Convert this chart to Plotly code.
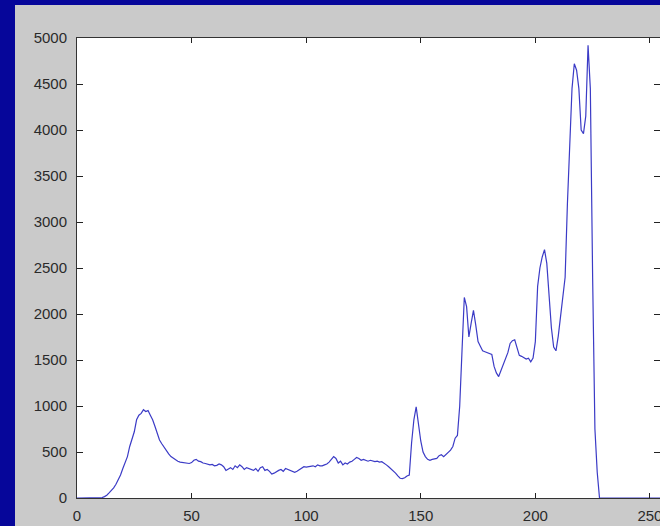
import plotly.graph_objects as go

# Histogram counts for gray levels 0..255
gray_levels = list(range(256))
counts = (
    [0] * 11
    + [5, 15, 30, 55, 80, 110, 150, 200, 250, 320,          # 11-20
       390, 450, 560, 650, 720, 850, 900, 920, 960, 940,     # 21-30
       950, 900, 850, 780, 700, 630, 590, 550, 520, 480,     # 31-40
       450, 430, 410, 400, 390, 385, 380, 380, 375, 385,     # 41-50
       410, 420, 400, 395, 380, 375, 370, 360, 365, 350,     # 51-60
       355, 370, 360, 340, 300, 320, 330, 310, 350, 330,     # 61-70
       360, 340, 310, 330, 320, 310, 300, 320, 290, 330,     # 71-80
       340, 300, 310, 290, 260, 270, 290, 300, 310, 290,     # 81-90
       320, 310, 300, 290, 280, 290, 310, 330, 340, 335,     # 91-100
       340, 345, 350, 340, 360, 350, 350, 360, 370, 390,     # 101-110
       420, 450, 430, 380, 400, 360, 380, 370, 390, 400,     # 111-120
       420, 440, 430, 410, 420, 410, 400, 410, 400, 395,     # 121-130
       400, 390, 395, 380, 360, 340, 320, 290, 270, 240,     # 131-140
       215, 210, 220, 240, 250, 600, 850, 990, 800, 620,     # 141-150
       500, 450, 420, 410, 420, 425, 430, 460, 470, 450,     # 151-160
       470, 500, 520, 560, 650, 680, 1000, 1600, 2180, 2080, # 161-170
       1750, 1900, 2040, 1880, 1700, 1650, 1600, 1590, 1580, 1570,  # 171-180
       1560, 1430, 1360, 1320, 1390, 1440, 1520, 1580, 1680, 1710,  # 181-190
       1720, 1620, 1550, 1540, 1520, 1510, 1520, 1480, 1520, 1700,  # 191-200
       2300, 2500, 2620, 2700, 2550, 2200, 1850, 1640, 1600, 1760,  # 201-210
       1980, 2200, 2400, 3200, 3800, 4450, 4720, 4650, 4450, 4000,  # 211-220
       3960, 4150, 4920, 4450, 2400, 750, 280]                      # 221-227
)
counts += [0] * (256 - len(counts))

y_ticks = [0, 500, 1000, 1500, 2000, 2500, 3000, 3500, 4000, 4500, 5000]
x_ticks = [0, 50, 100, 150, 200, 250]

W, H = 660, 526
L, R, T, B = 77, 0, 38, 28
plot_w = W - L - R
plot_h = H - T - B
px_per_unit = 2.2917
x_max = plot_w / px_per_unit

fig = go.Figure()
fig.add_trace(go.Scatter(x=gray_levels, y=counts, mode="lines",
                         line=dict(color="#3b3bc6", width=1.2),
                         hoverinfo="skip", showlegend=False))
# dummy trace to carry the right-hand tick axis
fig.add_trace(go.Scatter(x=[None], y=[None], yaxis="y2", showlegend=False,
                         hoverinfo="skip"))

font = dict(family="Liberation Sans, Arial, sans-serif", size=15, color="#2a2a2a")
navy = "#06069a"

fig.update_layout(
    width=W, height=H,
    margin=dict(l=L, r=R, t=T, b=B, pad=0),
    paper_bgcolor="#cacaca",
    plot_bgcolor="white",
    font=font,
    xaxis=dict(range=[0, x_max], tickvals=x_ticks, ticktext=[str(v) for v in x_ticks],
               ticks="inside", ticklen=5, tickcolor="#222", tickwidth=1,
               showline=True, linecolor="#333", linewidth=1, mirror="ticks",
               showgrid=False, zeroline=False, ticklabelstandoff=4, automargin=False,
               ticklabeloverflow="allow"),
    yaxis=dict(range=[0, 5000], tickvals=y_ticks, ticktext=[str(v) for v in y_ticks],
               ticks="inside", ticklen=6, tickcolor="#222", tickwidth=1,
               showline=True, linecolor="#333", linewidth=1, mirror=False,
               showgrid=False, zeroline=False, ticklabelstandoff=6, automargin=False),
    yaxis2=dict(range=[0, 5000], tickvals=y_ticks, overlaying="y", side="right",
                ticks="inside", ticklen=6, tickcolor="#222", tickwidth=1,
                showticklabels=False, showline=False, showgrid=False, zeroline=False,
                automargin=False),
    shapes=[
        # navy left strip
        dict(type="rect", xref="paper", yref="paper", layer="below",
             x0=-L / plot_w, x1=(15 - L) / plot_w,
             y0=-B / plot_h, y1=1 + T / plot_h,
             fillcolor=navy, line=dict(width=0)),
        # navy top strip
        dict(type="rect", xref="paper", yref="paper", layer="below",
             x0=-L / plot_w, x1=1.0,
             y0=1 + (T - 5) / plot_h, y1=1 + T / plot_h,
             fillcolor=navy, line=dict(width=0)),
    ],
)

fig.write_html("out.html",
               config={"displayModeBar": False, "staticPlot": True},
               post_script="document.body.style.margin='0';"
                           "document.body.style.overflow='hidden';")
